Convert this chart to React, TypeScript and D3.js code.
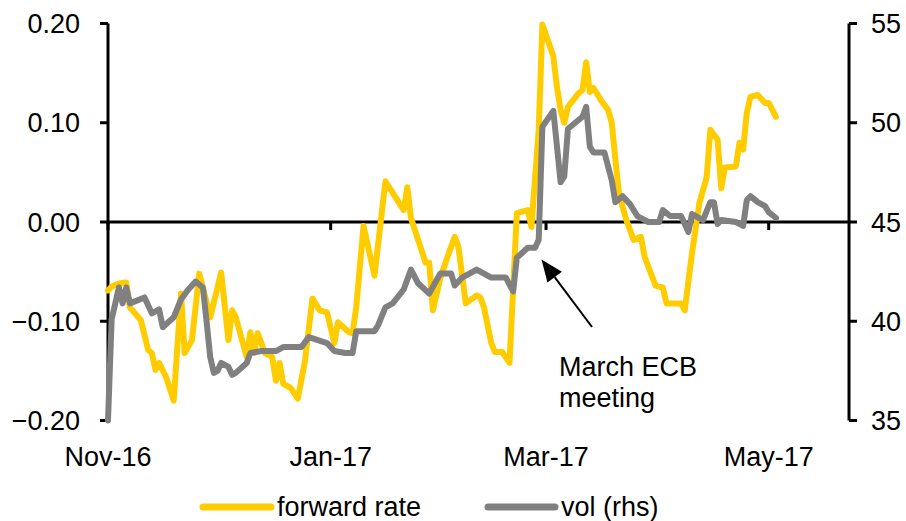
import React from "react";
import * as d3 from "d3";

const fwdDates = [
  "2016-11-01","2016-11-02","2016-11-04","2016-11-06","2016-11-07","2016-11-10","2016-11-12","2016-11-13","2016-11-14","2016-11-15",
  "2016-11-17","2016-11-19","2016-11-21","2016-11-22","2016-11-24","2016-11-26","2016-11-27","2016-11-29","2016-12-02","2016-12-04",
  "2016-12-05","2016-12-06","2016-12-09","2016-12-10","2016-12-11","2016-12-12","2016-12-14","2016-12-16","2016-12-17","2016-12-18",
  "2016-12-19","2016-12-21","2016-12-23","2016-12-25","2016-12-27","2016-12-29","2016-12-31","2017-01-02","2017-01-03","2017-01-06",
  "2017-01-07","2017-01-08","2017-01-10","2017-01-13","2017-01-16","2017-01-21","2017-01-22","2017-01-23","2017-01-27","2017-01-28",
  "2017-01-29","2017-01-31","2017-02-02","2017-02-04","2017-02-05","2017-02-07","2017-02-10","2017-02-11","2017-02-12","2017-02-14",
  "2017-02-15","2017-02-17","2017-02-19","2017-02-21","2017-02-24","2017-02-25","2017-02-27","2017-02-28","2017-03-03","2017-03-04",
  "2017-03-05","2017-03-06","2017-03-07","2017-03-10","2017-03-11","2017-03-12","2017-03-13","2017-03-14","2017-03-16","2017-03-18",
  "2017-03-19","2017-03-20","2017-03-21","2017-03-22","2017-03-23","2017-03-25","2017-03-27","2017-03-28","2017-03-31","2017-04-02",
  "2017-04-03","2017-04-07","2017-04-08","2017-04-10","2017-04-12","2017-04-14","2017-04-15","2017-04-17","2017-04-18","2017-04-19",
  "2017-04-22","2017-04-23","2017-04-24","2017-04-25","2017-04-26","2017-04-28","2017-04-30","2017-05-01","2017-05-03"
];
const fwdValues = [
  -0.069,-0.065,-0.062,-0.061,-0.086,-0.099,-0.129,-0.132,-0.149,-0.142,
  -0.157,-0.180,-0.072,-0.132,-0.119,-0.052,-0.066,-0.096,-0.051,-0.119,
  -0.089,-0.096,-0.136,-0.111,-0.132,-0.112,-0.132,-0.136,-0.160,-0.142,
  -0.163,-0.167,-0.178,-0.139,-0.077,-0.089,-0.091,-0.122,-0.101,-0.111,
  -0.112,-0.086,-0.004,-0.054,0.041,0.012,0.035,0.004,-0.041,-0.041,
  -0.089,-0.057,-0.035,-0.015,-0.025,-0.082,-0.074,-0.076,-0.086,-0.122,
  -0.131,-0.131,-0.142,0.009,0.012,-0.005,0.093,0.199,0.167,0.136,
  0.113,0.100,0.116,0.130,0.133,0.161,0.131,0.135,0.123,0.113,
  0.100,0.063,0.029,0.015,0.002,-0.018,-0.015,-0.035,-0.064,-0.066,
  -0.082,-0.082,-0.089,-0.031,0.019,0.045,0.093,0.083,0.034,0.055,
  0.056,0.080,0.073,0.110,0.126,0.128,0.120,0.120,0.106
];

const volDates = [
  "2016-11-01","2016-11-02","2016-11-04","2016-11-05","2016-11-06","2016-11-07","2016-11-11","2016-11-13","2016-11-15","2016-11-16",
  "2016-11-19","2016-11-21","2016-11-23","2016-11-25","2016-11-27","2016-11-28","2016-11-29","2016-11-30","2016-12-01","2016-12-02",
  "2016-12-04","2016-12-05","2016-12-06","2016-12-09","2016-12-10","2016-12-13","2016-12-17","2016-12-19","2016-12-24","2016-12-26",
  "2016-12-31","2017-01-02","2017-01-05","2017-01-07","2017-01-08","2017-01-13","2017-01-14","2017-01-16","2017-01-18","2017-01-21",
  "2017-01-23","2017-01-25","2017-01-28","2017-01-31","2017-02-03","2017-02-04","2017-02-06","2017-02-10","2017-02-14","2017-02-18",
  "2017-02-20","2017-02-21","2017-02-24","2017-02-26","2017-02-27","2017-02-28","2017-03-03","2017-03-05","2017-03-06","2017-03-07",
  "2017-03-11","2017-03-12","2017-03-13","2017-03-14","2017-03-17","2017-03-19","2017-03-20","2017-03-22","2017-03-24","2017-03-26",
  "2017-03-29","2017-04-01","2017-04-02","2017-04-04","2017-04-07","2017-04-09","2017-04-10","2017-04-13","2017-04-15","2017-04-16",
  "2017-04-17","2017-04-18","2017-04-22","2017-04-24","2017-04-25","2017-04-26","2017-04-28","2017-04-30","2017-05-01","2017-05-03"
];
const volValues = [
  35.0,40.1,41.7,40.9,41.7,40.9,41.2,40.4,40.6,39.7,
  40.2,41.1,41.6,42.0,41.7,40.0,38.2,37.4,37.5,37.9,
  37.7,37.3,37.4,37.9,38.4,38.5,38.5,38.7,38.7,39.2,
  38.9,38.5,38.4,38.4,39.5,39.5,39.8,40.7,40.9,41.6,
  42.6,41.9,41.4,42.4,42.4,41.8,42.2,42.6,42.2,42.2,
  41.5,43.2,43.7,43.7,44.1,49.8,50.6,47.0,47.3,49.7,
  50.3,50.8,48.8,48.5,48.5,47.1,46.0,46.3,45.9,45.3,
  45.0,45.0,45.6,45.3,45.3,44.5,45.4,45.1,46.0,46.0,
  44.9,45.1,45.0,44.8,46.1,46.3,46.0,45.8,45.5,45.2
];

const leftTicks = [-0.2, -0.1, 0, 0.1, 0.2];
const rightTicks = [35, 40, 45, 50, 55];
const xTickDates = ["2016-11-01", "2017-01-01", "2017-03-01", "2017-05-01"];
const xTickLabels = ["Nov-16", "Jan-17", "Mar-17", "May-17"];
const seriesNames = ["forward rate", "vol (rhs)"];
const seriesColors = ["#FFCC00", "#808080"];
const annotationLines = ["March ECB", "meeting"];

const parse = d3.timeParse("%Y-%m-%d");

export default function App() {
  const W = 906, H = 521;
  const left = 108, right = 849, top = 23.5, bottom = 420.5;
  const font = "'Liberation Sans', Arial, sans-serif";
  const fs = 27;

  const x = d3.scaleTime()
    .domain([parse("2016-11-01")!, parse("2017-05-23")!])
    .range([left, right]);
  const yL = d3.scaleLinear().domain([-0.2, 0.2]).range([bottom, top]);
  const yR = d3.scaleLinear().domain([35, 55]).range([bottom, top]);

  const fwd = fwdDates.map((d, i) => ({ d: parse(d)!, v: fwdValues[i] }));
  const vol = volDates.map((d, i) => ({ d: parse(d)!, v: volValues[i] }));

  const fwdLine = d3.line<{ d: Date; v: number }>().x(p => x(p.d)).y(p => yL(p.v));
  const volLine = d3.line<{ d: Date; v: number }>().x(p => x(p.d)).y(p => yR(p.v));

  const zeroY = yL(0);
  const fmt = d3.format(".2f");

  const tipX = 541.5, tipY = 259.5, tailX = 592, tailY = 327;
  const ang = Math.atan2(tailY - tipY, tailX - tipX);
  const hl = 22, hw = 9;
  const bx = tipX + hl * Math.cos(ang), by = tipY + hl * Math.sin(ang);
  const p1 = [bx + hw * Math.sin(ang), by - hw * Math.cos(ang)];
  const p2 = [bx - hw * Math.sin(ang), by + hw * Math.cos(ang)];

  return (
    <svg width={W} height={H} style={{ position: "absolute", left: 0, top: 0, background: "#fff" }}
      fontFamily={font}>
      <rect width={W} height={H} fill="#fff" />
      <line x1={left} x2={left} y1={top} y2={bottom} stroke="#000" strokeWidth={3} />
      {leftTicks.map(t => (
        <g key={"l" + t}>
          <line x1={left - 8} x2={left} y1={yL(t)} y2={yL(t)} stroke="#000" strokeWidth={3} />
          <text x={80} y={yL(t) + 9.5} textAnchor="end" fontSize={fs} fill="#000">{fmt(t)}</text>
        </g>
      ))}
      <line x1={right} x2={right} y1={top} y2={bottom} stroke="#000" strokeWidth={3} />
      {rightTicks.map(t => (
        <g key={"r" + t}>
          <line x1={right} x2={right + 8} y1={yR(t)} y2={yR(t)} stroke="#000" strokeWidth={3} />
          <text x={871} y={yR(t) + 9.5} textAnchor="start" fontSize={fs} fill="#000">{t}</text>
        </g>
      ))}
      <line x1={left} x2={right} y1={zeroY} y2={zeroY} stroke="#000" strokeWidth={3} />
      {xTickDates.map((d, i) => {
        const xx = x(parse(d)!);
        return (
          <g key={"x" + d}>
            <line x1={xx} x2={xx} y1={zeroY} y2={zeroY + 8} stroke="#000" strokeWidth={3} />
            <text x={xx} y={466} textAnchor="middle" fontSize={fs} fill="#000">{xTickLabels[i]}</text>
          </g>
        );
      })}
      <path d={fwdLine(fwd)!} fill="none" stroke={seriesColors[0]} strokeWidth={6}
        strokeLinejoin="round" strokeLinecap="round" />
      <path d={volLine(vol)!} fill="none" stroke={seriesColors[1]} strokeWidth={6}
        strokeLinejoin="round" strokeLinecap="round" />
      <line x1={tailX} y1={tailY} x2={bx} y2={by} stroke="#000" strokeWidth={2} />
      <polygon points={`${tipX},${tipY} ${p1[0]},${p1[1]} ${p2[0]},${p2[1]}`} fill="#000" />
      {annotationLines.map((t, i) => (
        <text key={t} x={559} y={376 + i * 31} fontSize={fs} fill="#000">{t}</text>
      ))}
      <line x1={203} x2={271} y1={507} y2={507} stroke={seriesColors[0]} strokeWidth={7} strokeLinecap="round" />
      <text x={277} y={516} fontSize={fs} fill="#000">{seriesNames[0]}</text>
      <line x1={488} x2={555} y1={507} y2={507} stroke={seriesColors[1]} strokeWidth={7} strokeLinecap="round" />
      <text x={561} y={516} fontSize={fs} fill="#000">{seriesNames[1]}</text>
    </svg>
  );
}
